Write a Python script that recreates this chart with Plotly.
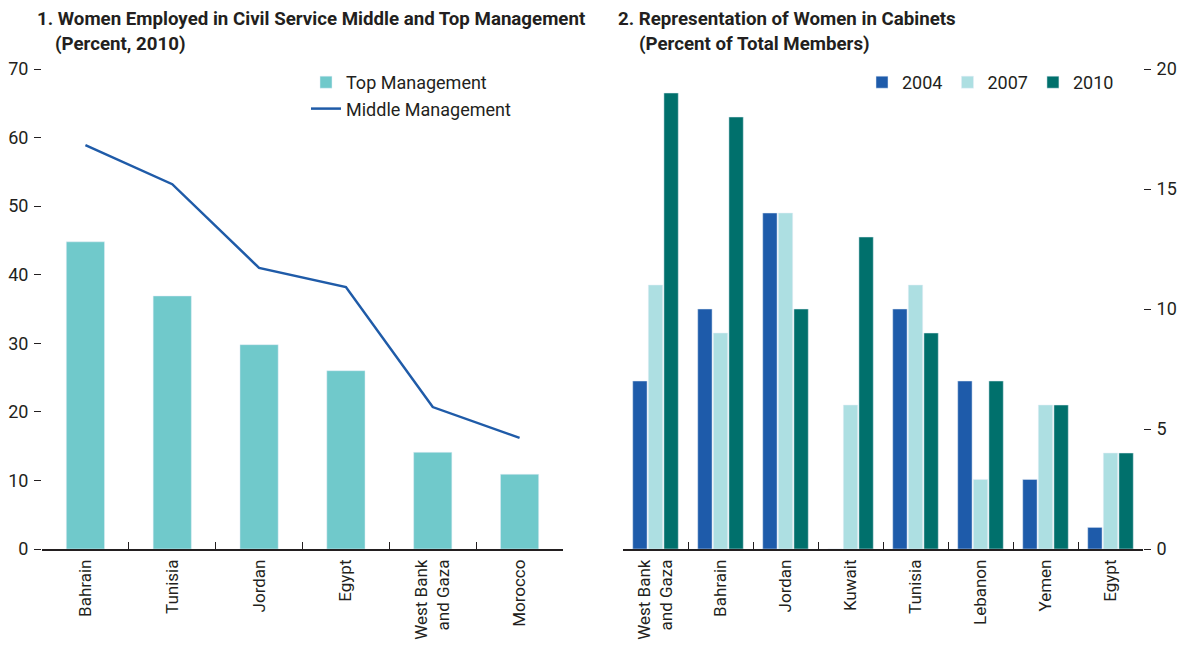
import plotly.graph_objects as go

# Panel 1 data
countries1 = ["Bahrain", "Tunisia", "Jordan", "Egypt", "West Bank<br>and Gaza", "Morocco"]
top_mgmt = [44.8, 36.9, 29.8, 26.0, 14.1, 10.9]
middle_mgmt = [58.9, 53.2, 41.0, 38.2, 20.7, 16.2]

# Panel 2 data
countries2 = ["West Bank<br>and Gaza", "Bahrain", "Jordan", "Kuwait", "Tunisia", "Lebanon", "Yemen", "Egypt"]
y2004 = [7.0, 10.0, 14.0, 0.0, 10.0, 7.0, 2.9, 0.9]
y2007 = [11.0, 9.0, 14.0, 6.0, 11.0, 2.9, 6.0, 4.0]
y2010 = [19.0, 18.0, 10.0, 13.0, 9.0, 7.0, 6.0, 4.0]

FONT = "Roboto, Liberation Sans Narrow, sans-serif"
TXT = "#231f20"
W, H = 1180, 645

def px_x(p):
    return p / W

def px_y(p):
    return 1 - p / H

fig = go.Figure()

fig.add_trace(go.Bar(x=countries1, y=top_mgmt, name="Top Management", marker_color="#70C9CB",
                     width=0.44, xaxis="x", yaxis="y", legend="legend"))
fig.add_trace(go.Scatter(x=countries1, y=middle_mgmt, name="Middle Management", mode="lines",
                         line=dict(color="#1F5BA8", width=2.5), xaxis="x", yaxis="y", legend="legend"))

for name, vals, col in [("2004", y2004, "#1E5BAA"), ("2007", y2007, "#ADDFE2"), ("2010", y2010, "#00706C")]:
    fig.add_trace(go.Bar(x=countries2, y=vals, name=name, marker_color=col,
                         xaxis="x2", yaxis="y2", legend="legend2"))

ydom = [px_y(549), px_y(69)]
tickfont = dict(family=FONT, size=18, color=TXT)
xtickfont = dict(family=FONT, size=17, color=TXT)

common_x = dict(tickson="boundaries", ticks="inside", ticklen=7, tickcolor=TXT, tickwidth=1.3,
                showline=True, linecolor=TXT, linewidth=1.5, tickangle=-90, tickfont=xtickfont,
                showgrid=False, automargin=False, ticklabelstandoff=2)
common_y = dict(ticks="outside", ticklen=7, tickcolor=TXT, tickwidth=1.3, showgrid=False,
                zeroline=False, automargin=False, tickfont=tickfont, ticklabelstandoff=2)

fig.update_layout(
    width=W, height=H,
    margin=dict(l=0, r=0, t=0, b=0, autoexpand=False),
    paper_bgcolor="white", plot_bgcolor="white",
    barmode="group", bargap=0.28, bargroupgap=0.08,
    font=dict(family=FONT, size=18, color=TXT),
    xaxis=dict(domain=[px_x(42), px_x(563)], anchor="y", **common_x),
    yaxis=dict(domain=ydom, anchor="x", range=[0, 70], dtick=10, **common_y),
    yaxis3=dict(overlaying="y", side="right", anchor="x", range=[0, 70], dtick=10,
                showticklabels=False, **common_y),
    xaxis2=dict(domain=[px_x(623), px_x(1143)], anchor="y2", **common_x),
    yaxis2=dict(domain=ydom, anchor="x2", side="right", range=[0, 20], dtick=5, **common_y),
    yaxis4=dict(overlaying="y2", side="left", anchor="x2", range=[0, 20], dtick=5,
                showticklabels=False, **common_y),
    legend=dict(x=px_x(306), y=px_y(64), xanchor="left", yanchor="top", orientation="v",
                font=dict(family=FONT, size=18, color=TXT), bgcolor="rgba(0,0,0,0)",
                tracegroupgap=0, itemwidth=30),
    legend2=dict(x=px_x(862), y=px_y(64), xanchor="left", yanchor="top", orientation="h",
                 font=dict(family=FONT, size=18, color=TXT), bgcolor="rgba(0,0,0,0)",
                 itemwidth=30),
    showlegend=True,
)

titles = [
    ("1. Women Employed in Civil Service Middle and Top Management", 35, 19),
    ("(Percent, 2010)", 53, 44),
    ("2. Representation of Women in Cabinets", 616, 19),
    ("(Percent of Total Members)", 637, 44),
]
for txt, x, y in titles:
    fig.add_annotation(text="<b>" + txt + "</b>", x=px_x(x), y=px_y(y), xref="paper", yref="paper",
                       xanchor="left", yanchor="middle", showarrow=False,
                       font=dict(family=FONT, size=18.7, color=TXT))

fig.write_html("out.html", config={"displayModeBar": False},
               post_script="document.body.style.margin='0';document.body.style.overflow='hidden';")
